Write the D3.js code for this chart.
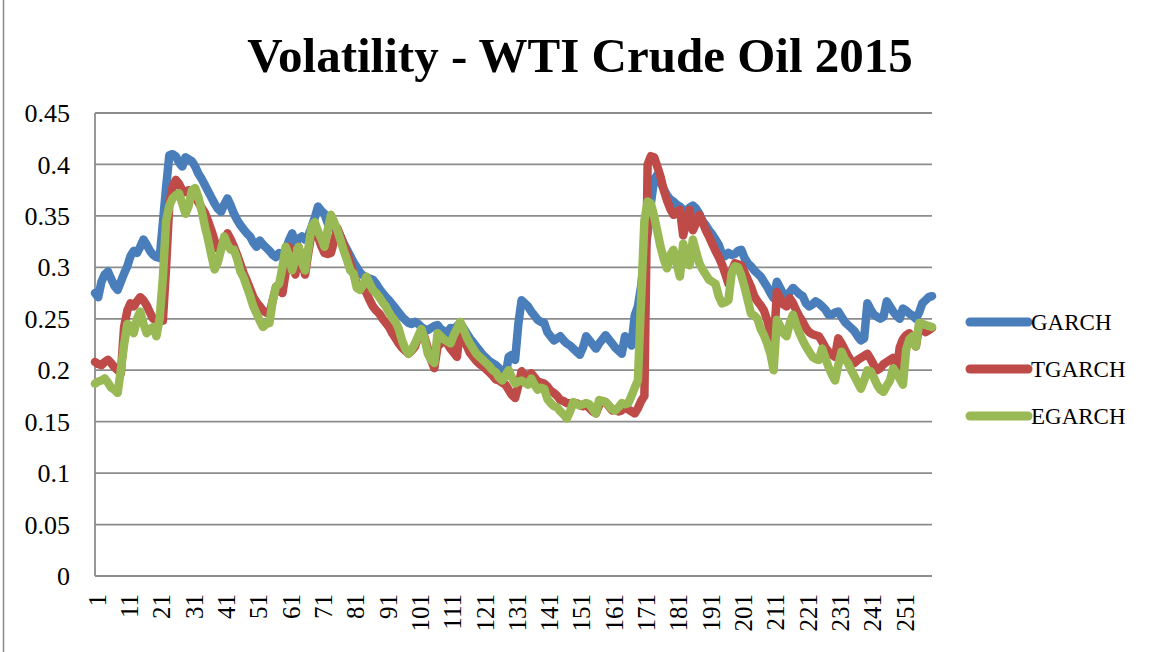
<!DOCTYPE html>
<html>
<head>
<meta charset="utf-8">
<script src="https://cdnjs.cloudflare.com/ajax/libs/d3/7.8.5/d3.min.js"></script>
<style>
body { margin: 0; background: #fff; }
text { font-family: "Liberation Serif", "Times New Roman", serif; fill: #000; }
</style>
</head>
<body>
<svg id="svg_vol" width="1151" height="652"></svg>
<script>
// daily conditional volatility, trading days 1..260
var garch = [
	0.275, 0.271, 0.286, 0.293, 0.296, 0.289, 0.282, 0.278, 0.286, 0.294,
	0.301, 0.311, 0.316, 0.314, 0.320, 0.327, 0.322, 0.316, 0.312, 0.310,
	0.309, 0.343, 0.378, 0.409, 0.410, 0.408, 0.402, 0.398, 0.407, 0.405,
	0.403, 0.398, 0.391, 0.386, 0.380, 0.374, 0.368, 0.362, 0.357, 0.354,
	0.361, 0.367, 0.360, 0.352, 0.346, 0.341, 0.337, 0.333, 0.330, 0.324,
	0.320, 0.326, 0.322, 0.319, 0.316, 0.312, 0.310, 0.314, 0.313, 0.317,
	0.326, 0.333, 0.323, 0.328, 0.330, 0.327, 0.331, 0.339, 0.348, 0.359,
	0.355, 0.352, 0.343, 0.340, 0.338, 0.336, 0.330, 0.323, 0.317, 0.311,
	0.305, 0.300, 0.295, 0.292, 0.290, 0.289, 0.288, 0.284, 0.279, 0.275,
	0.271, 0.268, 0.264, 0.260, 0.256, 0.252, 0.249, 0.246, 0.245, 0.247,
	0.245, 0.242, 0.240, 0.239, 0.241, 0.243, 0.244, 0.240, 0.238, 0.236,
	0.241, 0.240, 0.243, 0.246, 0.241, 0.236, 0.231, 0.227, 0.223, 0.219,
	0.215, 0.212, 0.209, 0.207, 0.205, 0.202, 0.199, 0.194, 0.213, 0.215,
	0.210, 0.245, 0.268, 0.265, 0.262, 0.257, 0.253, 0.249, 0.247, 0.246,
	0.237, 0.233, 0.229, 0.231, 0.233, 0.229, 0.226, 0.224, 0.221, 0.218,
	0.215, 0.222, 0.233, 0.229, 0.225, 0.221, 0.226, 0.230, 0.234, 0.230,
	0.226, 0.222, 0.219, 0.216, 0.233, 0.229, 0.224, 0.253, 0.262, 0.282,
	0.310, 0.333, 0.362, 0.385, 0.390, 0.383, 0.376, 0.370, 0.366, 0.364,
	0.361, 0.359, 0.356, 0.355, 0.358, 0.360, 0.357, 0.352, 0.345, 0.341,
	0.336, 0.332, 0.327, 0.322, 0.313, 0.311, 0.314, 0.312, 0.313, 0.316,
	0.317, 0.309, 0.304, 0.301, 0.297, 0.294, 0.291, 0.286, 0.281, 0.275,
	0.270, 0.286, 0.280, 0.274, 0.271, 0.276, 0.280, 0.277, 0.274, 0.272,
	0.265, 0.262, 0.264, 0.267, 0.265, 0.262, 0.259, 0.254, 0.254, 0.256,
	0.257, 0.252, 0.247, 0.244, 0.241, 0.238, 0.233, 0.229, 0.231, 0.265,
	0.259, 0.254, 0.252, 0.250, 0.252, 0.267, 0.262, 0.257, 0.253, 0.250,
	0.260, 0.258, 0.255, 0.253, 0.250, 0.256, 0.265, 0.268, 0.271, 0.272
];

var tgarch = [
	0.208, 0.206, 0.205, 0.208, 0.210, 0.207, 0.203, 0.200, 0.197, 0.242,
	0.258, 0.265, 0.262, 0.267, 0.271, 0.268, 0.263, 0.256, 0.250, 0.249,
	0.249, 0.248, 0.300, 0.362, 0.378, 0.385, 0.381, 0.375, 0.373, 0.375,
	0.374, 0.369, 0.363, 0.358, 0.353, 0.345, 0.336, 0.326, 0.318, 0.322,
	0.327, 0.333, 0.327, 0.320, 0.312, 0.303, 0.294, 0.287, 0.279, 0.271,
	0.266, 0.262, 0.258, 0.256, 0.255, 0.268, 0.281, 0.278, 0.275, 0.295,
	0.320, 0.305, 0.293, 0.320, 0.307, 0.293, 0.314, 0.333, 0.331, 0.330,
	0.321, 0.314, 0.313, 0.314, 0.326, 0.338, 0.330, 0.322, 0.314, 0.304,
	0.294, 0.284, 0.282, 0.280, 0.275, 0.268, 0.262, 0.258, 0.255, 0.250,
	0.246, 0.242, 0.236, 0.231, 0.226, 0.222, 0.219, 0.216, 0.219, 0.223,
	0.232, 0.238, 0.232, 0.221, 0.210, 0.202, 0.223, 0.226, 0.228, 0.226,
	0.221, 0.217, 0.213, 0.241, 0.233, 0.224, 0.217, 0.213, 0.209, 0.206,
	0.204, 0.201, 0.198, 0.195, 0.191, 0.190, 0.188, 0.186, 0.181, 0.176,
	0.173, 0.185, 0.199, 0.195, 0.194, 0.197, 0.193, 0.189, 0.188, 0.187,
	0.184, 0.180, 0.178, 0.175, 0.171, 0.170, 0.168, 0.168, 0.167, 0.168,
	0.166, 0.165, 0.167, 0.163, 0.160, 0.158, 0.166, 0.170, 0.169, 0.165,
	0.161, 0.162, 0.160, 0.161, 0.165, 0.162, 0.160, 0.158, 0.163, 0.170,
	0.175, 0.400, 0.408, 0.407, 0.398, 0.388, 0.375, 0.365, 0.357, 0.351,
	0.354, 0.356, 0.331, 0.345, 0.356, 0.336, 0.343, 0.351, 0.344, 0.336,
	0.330, 0.323, 0.316, 0.310, 0.303, 0.294, 0.284, 0.296, 0.304, 0.303,
	0.302, 0.295, 0.288, 0.281, 0.272, 0.267, 0.263, 0.258, 0.249, 0.236,
	0.223, 0.276, 0.270, 0.264, 0.262, 0.270, 0.265, 0.258, 0.252, 0.247,
	0.241, 0.237, 0.235, 0.234, 0.233, 0.228, 0.222, 0.218, 0.215, 0.213,
	0.231, 0.226, 0.220, 0.214, 0.209, 0.207, 0.210, 0.212, 0.214, 0.216,
	0.211, 0.205, 0.200, 0.202, 0.206, 0.208, 0.210, 0.212, 0.197, 0.222,
	0.230, 0.234, 0.236, 0.229, 0.223, 0.242, 0.240, 0.237, 0.239, 0.241
];

var egarch = [
	0.187, 0.189, 0.190, 0.192, 0.188, 0.183, 0.181, 0.178, 0.200, 0.225,
	0.245, 0.243, 0.236, 0.250, 0.257, 0.245, 0.236, 0.240, 0.242, 0.233,
	0.250, 0.290, 0.345, 0.360, 0.367, 0.370, 0.372, 0.362, 0.352, 0.360,
	0.375, 0.377, 0.368, 0.355, 0.340, 0.327, 0.312, 0.298, 0.305, 0.317,
	0.330, 0.322, 0.317, 0.317, 0.308, 0.296, 0.290, 0.281, 0.272, 0.262,
	0.255, 0.248, 0.242, 0.245, 0.246, 0.268, 0.281, 0.284, 0.300, 0.320,
	0.312, 0.297, 0.308, 0.320, 0.305, 0.297, 0.318, 0.339, 0.344, 0.335,
	0.328, 0.320, 0.336, 0.351, 0.344, 0.336, 0.326, 0.316, 0.307, 0.297,
	0.294, 0.280, 0.278, 0.283, 0.291, 0.284, 0.278, 0.275, 0.271, 0.266,
	0.262, 0.256, 0.251, 0.247, 0.240, 0.229, 0.221, 0.216, 0.220, 0.226,
	0.233, 0.240, 0.230, 0.216, 0.210, 0.207, 0.236, 0.233, 0.230, 0.228,
	0.226, 0.234, 0.240, 0.247, 0.240, 0.232, 0.226, 0.221, 0.216, 0.213,
	0.210, 0.207, 0.204, 0.200, 0.198, 0.193, 0.190, 0.195, 0.200, 0.193,
	0.187, 0.189, 0.190, 0.188, 0.186, 0.192, 0.186, 0.181, 0.183, 0.182,
	0.172, 0.168, 0.165, 0.164, 0.160, 0.157, 0.153, 0.160, 0.169, 0.167,
	0.166, 0.167, 0.168, 0.167, 0.162, 0.158, 0.171, 0.170, 0.169, 0.166,
	0.162, 0.161, 0.164, 0.168, 0.167, 0.168, 0.175, 0.183, 0.190, 0.270,
	0.345, 0.364, 0.362, 0.350, 0.335, 0.320, 0.308, 0.299, 0.312, 0.317,
	0.303, 0.291, 0.323, 0.310, 0.302, 0.327, 0.315, 0.304, 0.298, 0.293,
	0.288, 0.286, 0.284, 0.272, 0.265, 0.266, 0.268, 0.294, 0.301, 0.300,
	0.292, 0.281, 0.268, 0.255, 0.253, 0.250, 0.240, 0.234, 0.226, 0.216,
	0.200, 0.249, 0.243, 0.236, 0.233, 0.246, 0.254, 0.244, 0.236, 0.229,
	0.223, 0.218, 0.213, 0.211, 0.210, 0.221, 0.212, 0.203, 0.196, 0.190,
	0.205, 0.218, 0.211, 0.207, 0.200, 0.194, 0.188, 0.182, 0.190, 0.200,
	0.199, 0.193, 0.186, 0.181, 0.179, 0.185, 0.190, 0.202, 0.197, 0.192,
	0.186, 0.220, 0.230, 0.233, 0.223, 0.246, 0.245, 0.244, 0.243, 0.242
];

var yTicks = [0, 0.05, 0.1, 0.15, 0.2, 0.25, 0.3, 0.35, 0.4, 0.45];
var yTickLabels = ["0", "0.05", "0.1", "0.15", "0.2", "0.25", "0.3", "0.35", "0.4", "0.45"];
var xTickLabels = [1, 11, 21, 31, 41, 51, 61, 71, 81, 91, 101, 111, 121, 131, 141, 151, 161, 171, 181, 191, 201, 211, 221, 231, 241, 251];
var seriesNames = ["GARCH", "TGARCH", "EGARCH"];
var seriesColors = ["#4a7ebb", "#be4b48", "#98b954"];
var chartTitle = "Volatility - WTI Crude Oil 2015";

function renderVolatility() {
	var svg = d3.select("#svg_vol"),
		width = +svg.attr("width"),
		height = +svg.attr("height"),
		margin = {top: 113, right: 219, bottom: 76, left: 95};

	svg.selectAll("*").remove();
	svg.append("rect").attr("width", width).attr("height", height).attr("fill", "#fff");

	// chart border, only the left edge falls inside the picture
	svg.append("rect")
		.attr("x", 3.5).attr("y", -4)
		.attr("width", width + 10).attr("height", height + 10)
		.attr("fill", "none").attr("stroke", "#8a8a8a").attr("stroke-width", 1.5);

	var days = d3.range(1, garch.length + 1);
	var x = d3.scalePoint()
		.domain(days)
		.range([margin.left, width - margin.right]);
	var y = d3.scaleLinear()
		.domain([0, 0.45])
		.range([height - margin.bottom, margin.top]);

	// horizontal grid
	svg.append("g").attr("id", "grid")
		.selectAll("line").data(yTicks)
		.enter().append("line")
		.attr("x1", margin.left).attr("x2", width - margin.right)
		.attr("y1", function(d) { return y(d); })
		.attr("y2", function(d) { return y(d); })
		.attr("stroke", "#8c8c8c").attr("stroke-width", 1.8);

	svg.append("line")
		.attr("x1", margin.left).attr("x2", margin.left)
		.attr("y1", y(0.45)).attr("y2", y(0))
		.attr("stroke", "#8c8c8c").attr("stroke-width", 1.8);

	svg.append("g").attr("id", "y_labels")
		.selectAll("text").data(yTicks)
		.enter().append("text")
		.attr("x", 70)
		.attr("y", function(d) { return y(d); })
		.attr("dy", "0.35em")
		.attr("text-anchor", "end")
		.style("font-size", "26px")
		.text(function(d, i) { return yTickLabels[i]; });

	svg.append("g").attr("id", "x_labels")
		.selectAll("text").data(xTickLabels)
		.enter().append("text")
		.attr("transform", function(d) {
			return "translate(" + (x(d) + 2) + "," + (height - margin.bottom + 18) + ") rotate(-90)";
		})
		.attr("dy", "0.35em")
		.attr("text-anchor", "end")
		.style("font-size", "25px")
		.text(function(d) { return d; });

	var line = d3.line()
		.x(function(d, i) { return x(days[i]); })
		.y(function(d) { return y(d); });

	var g_line = svg.append("g").attr("id", "vol_line");
	[garch, tgarch, egarch].forEach(function(s, i) {
		g_line.append("path")
			.attr("d", line(s))
			.attr("fill", "none")
			.attr("stroke", seriesColors[i])
			.attr("stroke-width", 8.5)
			.attr("stroke-linejoin", "round")
			.attr("stroke-linecap", "round")
			.attr("id", seriesNames[i]);
	});

	var legend = svg.append("g").attr("id", "legend")
		.selectAll("g").data(seriesNames)
		.enter().append("g")
		.attr("transform", function(d, i) { return "translate(970," + (322 + i * 47) + ")"; });
	legend.append("line")
		.attr("x1", 0).attr("x2", 58)
		.attr("stroke", function(d, i) { return seriesColors[i]; })
		.attr("stroke-width", 9)
		.attr("stroke-linecap", "round");
	legend.append("text")
		.attr("x", 61)
		.attr("dy", "0.35em")
		.style("font-size", "23px")
		.text(function(d) { return d; });

	svg.append("text")
		.attr("x", 580).attr("y", 72)
		.attr("text-anchor", "middle")
		.style("font-size", "49px")
		.style("font-weight", "bold")
		.text(chartTitle);
}

renderVolatility();
</script>
</body>
</html>
